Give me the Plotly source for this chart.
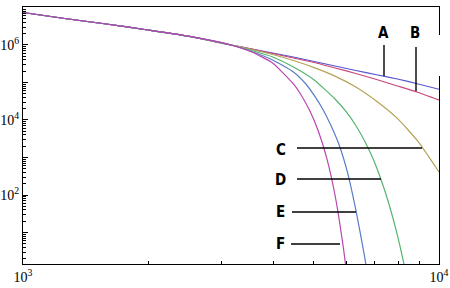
import plotly.graph_objects as go

# shared early part of all curves
x_common = [1000, 1259, 1585, 1995, 2512, 3162]
y_common = [7.36e6, 5.09e6, 3.63e6, 2.51e6, 1.69e6, 1.0e6]

x_ab = [3548, 3981, 4467, 5012, 5623, 6310, 7079, 7943, 8913, 10000]
y_a = [7.82e5, 6.12e5, 4.79e5, 3.63e5, 2.75e5, 2.09e5, 1.61e5, 1.24e5, 9.12e4, 6.59e4]
y_b = [7.82e5, 5.93e5, 4.50e5, 3.41e5, 2.44e5, 1.74e5, 1.20e5, 8.07e4, 5.41e4, 3.41e4]
x_c = [3548, 3981, 4467, 5012, 5623, 6310, 7079, 7943, 8913, 10000]
y_c = [7.59e5, 5.58e5, 3.86e5, 2.50e5, 1.48e5, 7.59e4, 3.17e4, 1.10e4, 2.65e3, 410]
x_d = [3548, 3981, 4467, 5012, 5623, 6026, 6310, 6607, 6918, 7244, 7586, 7943, 8318]
y_d = [7.13e5, 4.79e5, 2.59e5, 1.17e5, 3.63e4, 1.50e4, 7.13e3, 2.93e3, 1.01e3, 270, 55.8, 8.47, 0.90]
x_e = [3548, 3981, 4467, 4786, 5012, 5248, 5495, 5754, 6026, 6310, 6607, 6918]
y_e = [6.71e5, 3.98e5, 1.91e5, 9.12e4, 4.53e4, 2.00e4, 7.22e3, 2.15e3, 401, 40.3, 2.70, 0.127]
x_f = [3548, 3981, 4467, 4677, 4898, 5129, 5370, 5623, 5888, 6166]
y_f = [6.51e5, 3.31e5, 9.12e4, 4.37e4, 1.70e4, 5.00e3, 976, 100, 4.03, 0.0684]

names = ["A", "B", "C", "D", "E", "F"]
xs = [x_ab, x_ab, x_c, x_d, x_e, x_f]
ys = [y_a, y_b, y_c, y_d, y_e, y_f]
colors = ["#5555cc", "#c8467c", "#b4a358", "#55b56e", "#5a7cc8", "#b846b0"]

x_tickvals = [1000, 10000]
x_ticktext = ["10<sup>3</sup>", "10<sup>4</sup>"]
x_minor = [2000, 3000, 4000, 5000, 6000, 7000, 8000, 9000]
y_tickvals = [1e1, 1e2, 1e3, 1e4, 1e5, 1e6, 1e7]
y_ticktext = ["", "10<sup>2</sup>", "", "10<sup>4</sup>", "", "10<sup>6</sup>", ""]
y_minor = [m * 10 ** k for k in range(0, 7) for m in range(2, 10)]

fig = go.Figure()
for n, xv, yv, c in zip(names, xs, ys, colors):
    fig.add_trace(go.Scatter(
        x=x_common + xv, y=y_common + yv, mode="lines", name=n,
        line=dict(color=c, width=1.2, shape="spline", smoothing=0.5),
        hoverinfo="skip"))

# plot area in pixels: x 23..439, y 7..264
L, R, T, B = 23, 439, 7, 264
def px(x):
    return (x - L) / (R - L)
def py(y):
    return (B - y) / (B - T)

shapes = []
def seg(x0, y0, x1, y1):
    shapes.append(dict(type="line", xref="paper", yref="paper",
                       x0=px(x0), y0=py(y0), x1=px(x1), y1=py(y1),
                       line=dict(color="black", width=1.4)))
# gap in the right frame behind label B
shapes.append(dict(type="rect", xref="paper", yref="paper", layer="above",
                   x0=px(437), x1=px(442), y0=py(76), y1=py(35),
                   fillcolor="white", line=dict(width=0)))
seg(384, 45, 384, 76)
seg(416, 47, 416, 91)
seg(297, 148, 422, 148)
seg(297, 179, 381, 179)
seg(292, 212, 356, 212)
seg(291, 244, 340, 244)

label_pos = {"A": (383.5, 33.5), "B": (415, 33.5), "C": (281, 150),
             "D": (280, 180), "E": (280, 212), "F": (280, 244)}
annotations = []
for n, (lx, ly) in label_pos.items():
    annotations.append(dict(xref="paper", yref="paper", x=px(lx), y=py(ly),
                            text="<b>" + n + "</b>", showarrow=False,
                            xanchor="center", yanchor="middle",
                            font=dict(family="DejaVu Sans Condensed, Liberation Sans Narrow, Arial Narrow",
                                      size=15, color="black")))

tickfont = dict(family="Liberation Serif, Times New Roman, serif", size=14, color="black")
fig.update_layout(
    width=450, height=288,
    margin=dict(l=L, r=450 - R, t=T, b=288 - B, autoexpand=False),
    paper_bgcolor="white", plot_bgcolor="white",
    showlegend=False,
    shapes=shapes, annotations=annotations,
    xaxis=dict(type="log", range=[3, 4], showline=True, linecolor="black", linewidth=1.3,
               mirror=True, showgrid=False, zeroline=False, automargin=False,
               ticks="inside", tickvals=x_tickvals, ticktext=x_ticktext,
               ticklen=4, tickcolor="black", tickfont=tickfont,
               minor=dict(tickvals=x_minor, ticks="inside", ticklen=3, tickcolor="black", showgrid=False)),
    yaxis=dict(type="log", range=[0.16, 7.013], showline=True, linecolor="black", linewidth=1.3,
               mirror=True, showgrid=False, zeroline=False, automargin=False,
               ticks="inside", tickvals=y_tickvals, ticktext=y_ticktext,
               ticklen=5, tickcolor="black", tickfont=tickfont,
               minor=dict(tickvals=y_minor, ticks="inside", ticklen=3, tickcolor="black", showgrid=False)),
)
fig.write_html("out.html", config={"displayModeBar": False},
               post_script="document.body.style.margin='0';document.body.style.padding='0';")
